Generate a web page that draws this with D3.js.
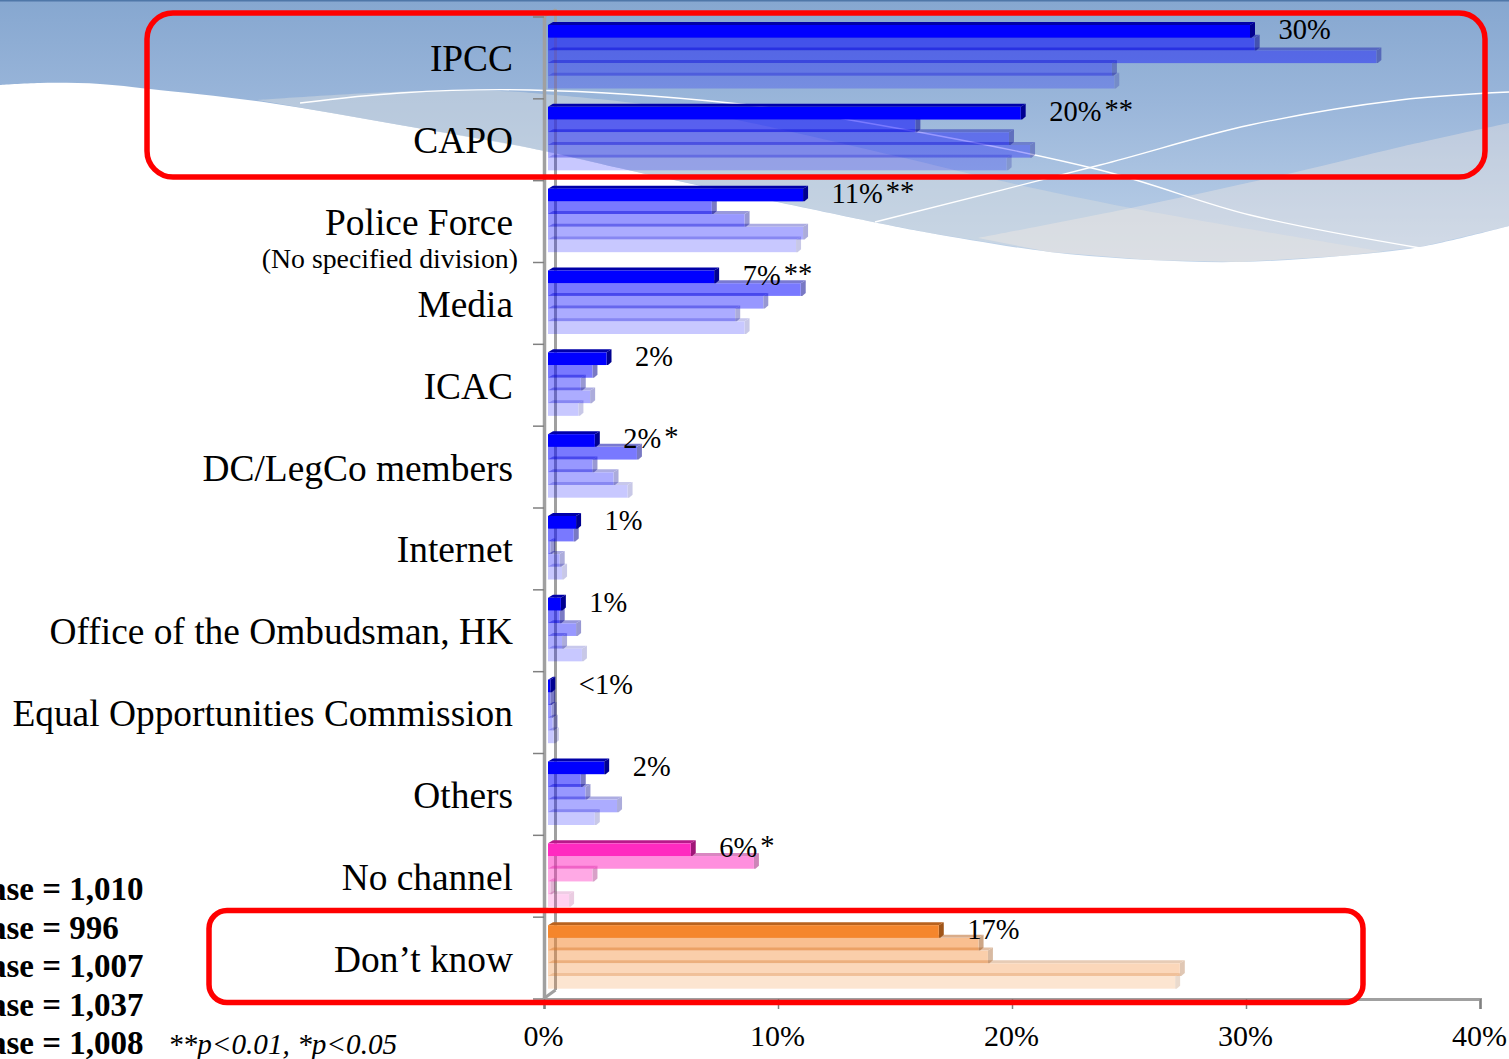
<!DOCTYPE html>
<html><head><meta charset="utf-8">
<style>html,body{margin:0;padding:0;background:#fff;overflow:hidden}svg{display:block}text{font-family:"Liberation Serif",serif;fill:#000}</style>
<script src="https://cdn.jsdelivr.net/npm/d3@7/dist/d3.min.js"></script>
</head><body><svg id="c" width="1509" height="1059"></svg>
<script>
const categories=["IPCC","CAPO","Police Force","Media","ICAC","DC/LegCo members","Internet","Office of the Ombudsman, HK","Equal Opportunities Commission","Others","No channel","Don’t know"];
const wave1=[30,20.2,10.9,7.1,2.5,2.0,1.2,0.55,0.1,2.4,6.1,16.7];
const wave2=[30.2,15.7,7.0,10.8,1.9,3.8,1.1,0.5,0.1,1.4,8.8,18.4];
const wave3=[35.4,19.7,8.4,9.2,1.4,1.9,0.1,1.2,0.15,1.6,1.9,18.8];
const wave4=[24.1,20.6,10.9,8.0,1.8,2.8,0.5,0.6,0.2,2.95,0.1,27.0];
const wave5=[24.2,19.6,10.6,8.4,1.3,3.4,0.6,1.45,0.25,2.0,0.9,26.8];
const waves=[wave1,wave2,wave3,wave4,wave5];
const valueLabels=["30%","20%","11%","7%","2%","2%","1%","1%","<1%","2%","6%","17%"];
const sigMarks=["","**","**","**","","*","","","","","*",""];
const xTicks=[0,10,20,30,40];
const baseLabels=["ase = 1,010","ase = 996","ase = 1,007","ase = 1,037","ase = 1,008"];
const waveOpacity=[1,.52,.4,.32,.21];
const palette={blue:["#0000ff","#0000a8","#000090"],pink:["#ff2ac0","#b81a8a","#a01678"],orange:["#f5862c","#b8621e","#a05518"]};

const svg=d3.select("#c");
const defs=svg.append("defs");
const g=defs.append("linearGradient").attr("id","bg").attr("gradientUnits","userSpaceOnUse").attr("x1",0).attr("y1",0).attr("x2",0).attr("y2",260);
[[0,"#86a7d0"],[.4,"#9ab6da"],[1,"#bed2e9"]].forEach(s=>g.append("stop").attr("offset",s[0]).attr("stop-color",s[1]));

const curve=d3.line().curve(d3.curveCatmullRom.alpha(.5));
const bottomEdge=[[0,85],[40,83],[100,84],[150,89],[270,103],[400,125],[530,148],[637,172],[873,222],[930,233],[1050,252],[1150,260],[1240,262],[1340,256],[1420,247],[1509,226]];
const deco=svg.append("g");
deco.append("path").attr("d",curve(bottomEdge)+"L1509,0L0,0Z").attr("fill","url(#bg)");
const waveA=[[257,100],[393,92],[500,91],[543,94],[650,105],[737,120],[900,157],[997,180],[1131,208],[1385,252]];
const edgeA=bottomEdge.filter(p=>p[0]>270&&p[0]<1385);
deco.append("path").attr("d",curve(waveA)+"L"+edgeA.reverse().map(p=>p.join(",")).join("L")+"Z").attr("fill","#d5dbe0").attr("fill-opacity",.5);
const waveB=[[978,238],[1131,208],[1292,173],[1400,147],[1509,123]];
const edgeB=bottomEdge.filter(p=>p[0]>978);
deco.append("path").attr("d",curve(waveB)+"L"+edgeB.reverse().map(p=>p.join(",")).join("L")+"Z").attr("fill","#fff0e4").attr("fill-opacity",.33);
const wl=(pts)=>deco.append("path").attr("d",curve(pts)).attr("fill","none").attr("stroke","#fff").attr("stroke-width",1.3);
wl([[300,103],[400,93],[530,90],[730,103],[850,120],[1100,170],[1250,215],[1420,248]]);
wl([[875,222],[1100,165],[1250,125],[1400,100],[1509,92]]);
deco.append("rect").attr("x",0).attr("y",0).attr("width",1509).attr("height",1.5).attr("fill","#4f77a8");

// scales
const xAxisScale=d3.scaleLinear().domain([0,40]).range([544,1480]);
const x=d3.scaleLinear().domain([0,40]).range([548,1484]);
const y=d3.scaleBand().domain(categories).range([17,999]);
const inner=d3.scaleBand().domain(d3.range(5)).range([8,71.5]);
const gray="#a0a0a0";

// axes
const ax=svg.append("g");
ax.append("line").attr("x1",555.5).attr("x2",555.5).attr("y1",9).attr("y2",990).attr("stroke",gray).attr("stroke-width",3);
ax.append("line").attr("x1",544.5).attr("x2",555.5).attr("y1",17).attr("y2",9).attr("stroke",gray).attr("stroke-width",2);
ax.append("line").attr("x1",544.5).attr("x2",555.5).attr("y1",998).attr("y2",990).attr("stroke",gray).attr("stroke-width",3);
ax.append("line").attr("x1",544.5).attr("x2",544.5).attr("y1",17).attr("y2",999).attr("stroke",gray).attr("stroke-width",3.5);
const yTickPos=categories.map(c=>y(c)).concat([y.range()[1]]);
ax.selectAll("line.yt").data(yTickPos).join("line").attr("class","yt").attr("x1",533).attr("x2",544).attr("y1",d=>d).attr("y2",d=>d).attr("stroke","#808080").attr("stroke-width",1.5);

const xg=svg.append("g").attr("transform","translate(0,999)").call(d3.axisBottom(xAxisScale).tickValues(xTicks).tickFormat(d=>d+"%").tickSize(10).tickPadding(16));
xg.select(".domain").attr("stroke",gray).attr("stroke-width",3);
xg.selectAll(".tick line").attr("stroke","#808080").attr("stroke-width",1.5);
xg.selectAll(".tick text").attr("font-size",30).style("font-family",'"Liberation Serif",serif').attr("fill","#000").attr("dx",-1);

// bars
const dx=5,dy=3;
function colours(ci){return ci===10?palette.pink:ci===11?palette.orange:palette.blue;}
const barsG=svg.append("g");
categories.forEach((cat,ci)=>{
  const cg=barsG.append("g");
  d3.range(4,-1,-1).forEach(w=>{
    const v=waves[w][ci],top=y(cat)+inner(w),h=inner.bandwidth(),xe=x(v),x0=x(0),col=colours(ci),o=waveOpacity[w];
    const b=cg.append("g").attr("opacity",o);
    b.append("path").attr("d",`M${x0},${top}L${x0+dx},${top-dy}L${xe+dx},${top-dy}L${xe},${top}Z`).attr("fill",col[1]);
    b.append("path").attr("d",`M${xe},${top}L${xe+dx},${top-dy}L${xe+dx},${top+h-3}L${xe+1.5},${top+h}L${xe},${top+h}Z`).attr("fill",col[2]);
    b.append("rect").attr("x",x0).attr("y",top).attr("width",Math.max(xe-x0,0)).attr("height",h).attr("fill",col[0]);
  });
});

// category labels
const labelsG=svg.append("g");
labelsG.selectAll("text").data(categories).join("text").attr("x",513).attr("y",d=>y(d)+y.bandwidth()/2+13.5).attr("text-anchor","end").attr("font-size",37.4).text(d=>d);
svg.append("text").attr("x",518).attr("y",268).attr("text-anchor","end").attr("font-size",27.8).text("(No specified division)");

// value labels
const vl=svg.append("g").selectAll("text").data(categories).join("text")
 .attr("x",(d,i)=>x(wave1[i])+dx+23.5).attr("y",d=>y(d)+inner(0)+14).attr("font-size",28.5);
vl.append("tspan").text((d,i)=>valueLabels[i]);
vl.append("tspan").attr("dx",3).attr("dy",-2).text((d,i)=>sigMarks[i]);

// base + note
svg.append("g").selectAll("text").data(baseLabels).join("text").attr("x",-10).attr("y",(d,i)=>900+i*38.5).attr("font-weight","bold").attr("font-size",33).text(d=>d);
svg.append("text").attr("x",168).attr("y",1054).attr("font-style","italic").attr("font-size",29.2).text("**p<0.01, *p<0.05");

// highlight boxes
const boxes=[[147,13,1338,164,26],[209,910.5,1154,92,18]];
svg.append("g").selectAll("rect").data(boxes).join("rect").attr("x",d=>d[0]).attr("y",d=>d[1]).attr("width",d=>d[2]).attr("height",d=>d[3]).attr("rx",d=>d[4]).attr("fill","none").attr("stroke","#ff0000").attr("stroke-width",5.5);
</script></body></html>
